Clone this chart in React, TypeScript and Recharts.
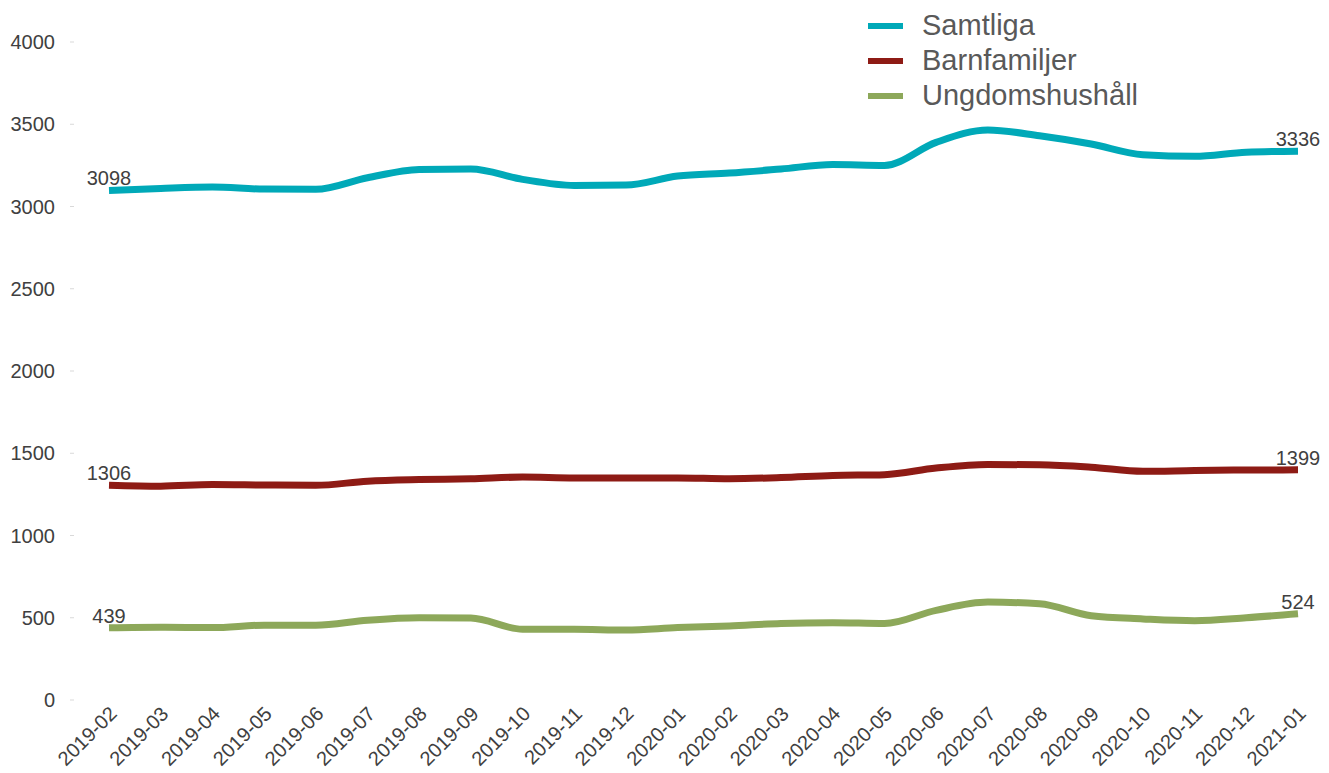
import React from "react";
import { LineChart, Line, XAxis, YAxis, LabelList } from "recharts";

const months = [
  "2019-02", "2019-03", "2019-04", "2019-05", "2019-06", "2019-07", "2019-08", "2019-09",
  "2019-10", "2019-11", "2019-12", "2020-01", "2020-02", "2020-03", "2020-04", "2020-05",
  "2020-06", "2020-07", "2020-08", "2020-09", "2020-10", "2020-11", "2020-12", "2021-01",
];
const samtliga = [
  3098, 3110, 3118, 3106, 3105, 3175, 3225, 3228, 3165, 3128, 3130, 3185,
  3203, 3228, 3255, 3250, 3390, 3465, 3430, 3380, 3315, 3305, 3330, 3336,
];
const barnfamiljer = [
  1306, 1300, 1310, 1307, 1305, 1330, 1340, 1345, 1355, 1350, 1350, 1350,
  1345, 1352, 1365, 1370, 1410, 1432, 1430, 1415, 1390, 1395, 1398, 1399,
];
const ungdom = [
  439, 442, 440, 455, 455, 485, 500, 498, 430, 430, 425, 440,
  450, 465, 470, 465, 545, 595, 585, 512, 493, 482, 500, 524,
];
const yTicks = [0, 500, 1000, 1500, 2000, 2500, 3000, 3500, 4000];

const seriesDefs = [
  { key: "samtliga", name: "Samtliga", color: "#00A9B8" },
  { key: "barnfamiljer", name: "Barnfamiljer", color: "#8E1B15" },
  { key: "ungdom", name: "Ungdomshushåll", color: "#8DA85A" },
];

const data = months.map((m, i) => ({
  month: m,
  samtliga: samtliga[i],
  barnfamiljer: barnfamiljer[i],
  ungdom: ungdom[i],
}));

const FONT = "'Liberation Sans', Arial, sans-serif";

const XTick = (props: any) => {
  const { x, y, payload } = props;
  const ax = x + 9;
  const ay = y + 15;
  return (
    <text
      x={ax}
      y={ay}
      transform={`rotate(-45 ${ax} ${ay})`}
      textAnchor="end"
      fontSize={20}
      fill="#404040"
      fontFamily={FONT}
    >
      {payload.value}
    </text>
  );
};

const EndLabel = (props: any) => {
  const { x, y, value, index } = props;
  if (index !== 0 && index !== months.length - 1) return null;
  return (
    <text x={x} y={y - 5} textAnchor="middle" fontSize={20} fill="#404040" fontFamily={FONT}>
      {value}
    </text>
  );
};

const LegendBox = () => (
  <div style={{ position: "absolute", left: 868, top: 8, fontFamily: FONT }}>
    {seriesDefs.map((s) => (
      <div key={s.key} style={{ display: "flex", alignItems: "center", height: 35 }}>
        <div style={{ width: 35, height: 6, background: s.color, marginRight: 19 }} />
        <span style={{ fontSize: 29, color: "#595959", lineHeight: "35px" }}>{s.name}</span>
      </div>
    ))}
  </div>
);

export default function App() {
  return (
    <div style={{ position: "absolute", left: 0, top: 0, width: 1329, height: 773, background: "#fff" }}>
      <LineChart
        width={1329}
        height={773}
        data={data}
        margin={{ top: 42, right: 21, bottom: 3, left: 0 }}
      >
        <XAxis
          dataKey="month"
          axisLine={false}
          tickLine={false}
          tickSize={0}
          tickMargin={0}
          interval={0}
          height={70}
          padding={{ left: 35, right: 10 }}
          tick={<XTick />}
        />
        <YAxis
          domain={[0, 4000]}
          ticks={yTicks}
          width={74}
          axisLine={false}
          tickLine={{ stroke: "#d9d9d9" }}
          tickSize={4}
          tickMargin={15}
          tick={{ fontSize: 20, fill: "#404040", fontFamily: FONT }}
        />
        {seriesDefs.map((s) => (
          <Line
            key={s.key}
            dataKey={s.key}
            name={s.name}
            type="monotone"
            stroke={s.color}
            strokeWidth={7}
            dot={false}
            activeDot={false}
            isAnimationActive={false}
          >
            <LabelList dataKey={s.key} content={<EndLabel />} />
          </Line>
        ))}
      </LineChart>
      <LegendBox />
    </div>
  );
}
